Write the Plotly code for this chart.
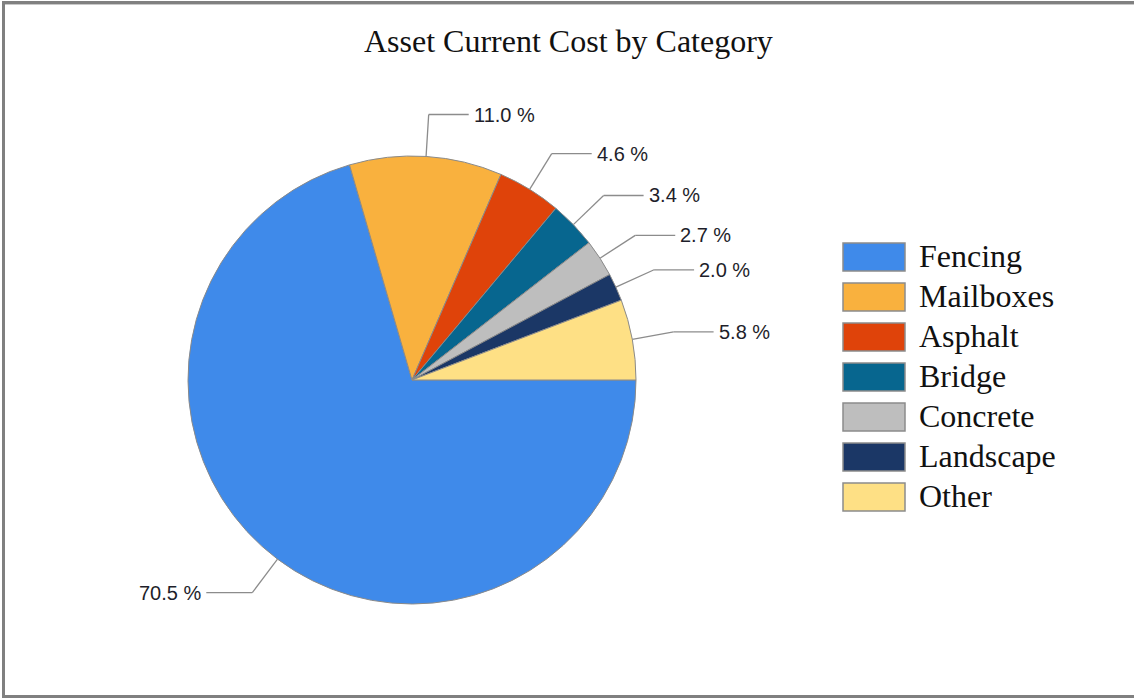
import math
import plotly.graph_objects as go

# ---- data ----
categories = ["Fencing", "Mailboxes", "Asphalt", "Bridge", "Concrete", "Landscape", "Other"]
percent_values = [70.5, 11.0, 4.6, 3.4, 2.7, 2.0, 5.8]
slice_colors = ["#3F8AEA", "#F9B13E", "#DF430A", "#07668F", "#BEBEBE", "#1B3766", "#FEE085"]
title_text = "Asset Current Cost by Category"

W, H = 1134, 698
cx, cy, R = 412, 380, 224  # pie centre / radius in pixels


def px(x):
    return x / W


def py(y):
    return 1 - y / H


fig = go.Figure()
fig.add_trace(go.Pie(
    labels=categories,
    values=percent_values,
    sort=False,
    direction="clockwise",
    rotation=90,
    textinfo="none",
    hoverinfo="label+percent",
    marker=dict(colors=slice_colors, line=dict(color="#8a8a8a", width=1)),
    domain=dict(x=[px(cx - R), px(cx + R)], y=[py(cy + R), py(cy - R)]),
    showlegend=False,
))

shapes = []
annotations = []

# leader lines + labels derived from data
total = sum(percent_values)
cum = 0.0
for v in percent_values:
    mid = (cum + v / 2) / total
    cum += v
    ang = math.radians(-(mid * 360))  # clockwise from 3 o'clock
    c, s = math.cos(ang), math.sin(ang)
    x0, y0 = cx + R * c, cy - R * s
    x1, y1 = cx + (R + 42) * c, cy - (R + 42) * s
    side = 1 if c >= 0 else -1
    seg = 40 if side > 0 else 46
    x2 = x1 + side * seg
    for (a, b, d, e) in [(x0, y0, x1, y1), (x1, y1, x2, y1)]:
        shapes.append(dict(type="line", xref="paper", yref="paper",
                           x0=px(a), y0=py(b), x1=px(d), y1=py(e),
                           line=dict(color="#8c8c8c", width=1.3)))
    annotations.append(dict(
        x=px(x2 + side * 3), y=py(y1), xref="paper", yref="paper",
        text=f"{v:.1f} %", showarrow=False,
        xanchor="left" if side > 0 else "right", yanchor="middle",
        font=dict(family="Liberation Sans, Arial", size=20, color="#1e1e2a"),
    ))

# legend drawn manually (large swatches)
for i, (name, col) in enumerate(zip(categories, slice_colors)):
    yc = 257 + 40 * i
    shapes.append(dict(type="rect", xref="paper", yref="paper",
                       x0=px(843), x1=px(905), y0=py(yc - 14), y1=py(yc + 14),
                       fillcolor=col, line=dict(color="#8c8c8c", width=1.5)))
    annotations.append(dict(
        x=px(917), y=py(yc - 1), xref="paper", yref="paper", text=name,
        showarrow=False, xanchor="left", yanchor="middle",
        font=dict(family="Liberation Serif, Times New Roman", size=32, color="#111111"),
    ))

# frame (right edge lies outside the visible area)
shapes.append(dict(type="rect", xref="paper", yref="paper",
                   x0=px(3.5), x1=px(1140), y0=py(2.5), y1=py(696.5),
                   line=dict(color="#808080", width=3)))
shapes.append(dict(type="line", xref="paper", yref="paper",
                   x0=px(5), x1=px(1134), y0=py(4.5), y1=py(4.5),
                   line=dict(color="#c8c8c8", width=1)))

annotations.append(dict(
    x=px(568), y=py(41), xref="paper", yref="paper", text=title_text,
    showarrow=False, xanchor="center", yanchor="middle",
    font=dict(family="Liberation Serif, Times New Roman", size=32, color="#111111"),
))

fig.update_layout(
    width=W, height=H,
    margin=dict(l=0, r=0, t=0, b=0),
    paper_bgcolor="white",
    plot_bgcolor="white",
    shapes=shapes,
    annotations=annotations,
    showlegend=False,
)

fig.write_html("out.html", config={"displayModeBar": False},
               post_script="document.body.style.margin='0';document.body.style.overflow='hidden';")
